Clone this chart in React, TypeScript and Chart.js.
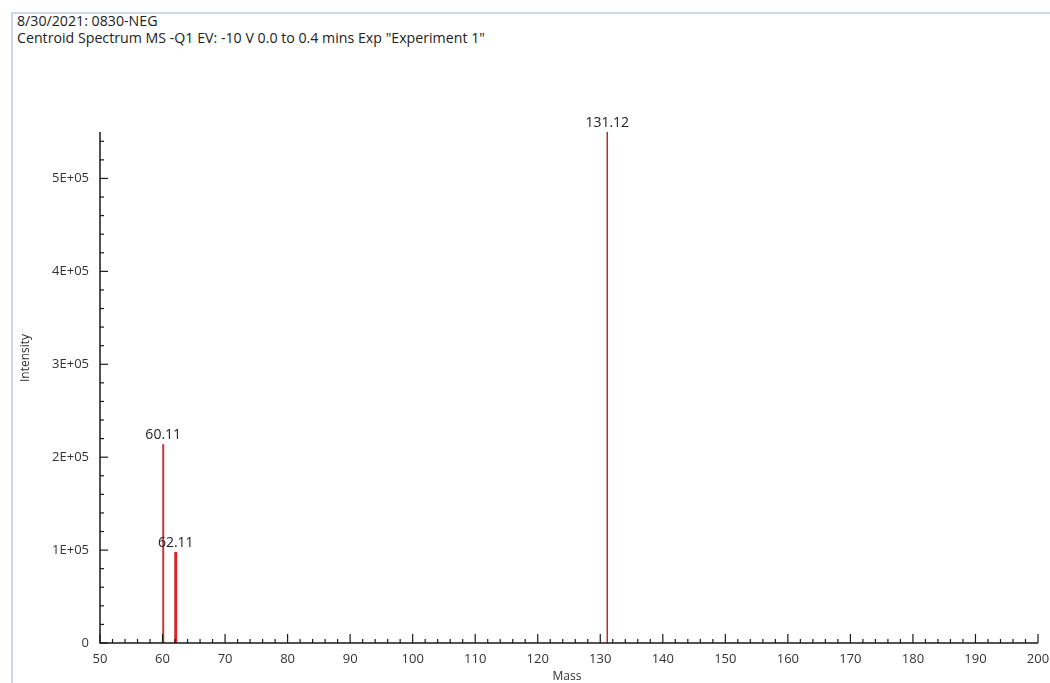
import React, { useEffect, useRef } from "react";
import { Chart, registerables } from "chart.js";

Chart.register(...registerables);

const titleLine1 = "8/30/2021: 0830-NEG";
const titleLine2 = 'Centroid Spectrum MS -Q1 EV: -10 V 0.0 to 0.4 mins Exp "Experiment 1"';
const peakMasses = [60.11, 62.11, 131.12];
const peakIntensities = [214000, 98000, 550000];
const peakLabels = ["60.11", "62.11", "131.12"];
const peakColors = ["#c23a3a", "#d8232a", "#b82e2e"];
const peakWidths = [2, 3, 1.5];
const xTickValues = [50, 60, 70, 80, 90, 100, 110, 120, 130, 140, 150, 160, 170, 180, 190, 200];
const yTickValues = [0, 100000, 200000, 300000, 400000, 500000];
const yTickLabels = ["0", "1E+05", "2E+05", "3E+05", "4E+05", "5E+05"];
const xTitle = "Mass";
const yTitle = "Intensity";

const FONT = "'Open Sans', 'Noto Sans', sans-serif";

const axisPlugin = {
  id: "msAxes",
  afterDraw(chart: any) {
    const ctx = chart.ctx;
    const { left, right, top, bottom } = chart.chartArea;
    const xs = chart.scales.x;
    const ys = chart.scales.y;
    ctx.save();
    ctx.strokeStyle = "#1a1a1a";
    ctx.lineWidth = 1.5;
    ctx.beginPath();
    ctx.moveTo(left, top);
    ctx.lineTo(left, bottom);
    ctx.lineTo(right, bottom);
    ctx.stroke();
    ctx.lineWidth = 1.2;
    for (let v = 50; v <= 200; v += 2) {
      const px = xs.getPixelForValue(v);
      const major = v % 10 === 0;
      ctx.beginPath();
      ctx.moveTo(px, bottom);
      ctx.lineTo(px, bottom - (major ? 9 : 4));
      ctx.stroke();
    }
    for (let v = 0; v <= 550000; v += 20000) {
      const py = ys.getPixelForValue(v);
      const major = v % 100000 === 0;
      ctx.beginPath();
      ctx.moveTo(left, py);
      ctx.lineTo(left + (major ? 8 : 4), py);
      ctx.stroke();
    }
    ctx.fillStyle = "#222";
    ctx.font = `14px ${FONT}`;
    ctx.textAlign = "center";
    ctx.textBaseline = "bottom";
    peakMasses.forEach((m, i) => {
      const px = xs.getPixelForValue(m);
      const py = ys.getPixelForValue(peakIntensities[i]);
      ctx.fillText(peakLabels[i], px, py - 2);
    });
    ctx.font = `12px ${FONT}`;
    ctx.fillStyle = "#333";
    ctx.textBaseline = "middle";
    ctx.fillText(xTitle, (left + right) / 2 - 2, 677);
    ctx.translate(26, 358);
    ctx.rotate(-Math.PI / 2);
    ctx.fillText(yTitle, 0, 0);
    ctx.restore();
  },
};

export default function App() {
  const ref = useRef<HTMLCanvasElement>(null);
  useEffect(() => {
    const datasets = peakMasses.map((m, i) => ({
      label: peakLabels[i],
      data: [
        { x: m, y: 0 },
        { x: m, y: peakIntensities[i] },
      ],
      borderColor: peakColors[i],
      borderWidth: peakWidths[i],
      pointRadius: 0,
      showLine: true,
      fill: false,
    }));
    const chart = new Chart(ref.current as HTMLCanvasElement, {
      type: "scatter",
      data: { datasets },
      plugins: [axisPlugin],
      options: {
        animation: false,
        responsive: false,
        layout: { padding: { left: 0, top: 132, right: 12, bottom: 0 } },
        plugins: { legend: { display: false }, tooltip: { enabled: false } },
        scales: {
          x: {
            type: "linear",
            min: 50,
            max: 200,
            grid: { display: false },
            border: { display: false },
            afterBuildTicks: (s: any) => {
              s.ticks = xTickValues.map((v) => ({ value: v }));
            },
            ticks: {
              autoSkip: false,
              color: "#333",
              font: { family: FONT, size: 13 },
              padding: 0,
              maxRotation: 0,
              callback: (v: any) => String(v),
            },
            afterFit: (s: any) => {
              s.height = 40;
            },
          },
          y: {
            type: "linear",
            min: 0,
            max: 550000,
            grid: { display: false },
            border: { display: false },
            afterBuildTicks: (s: any) => {
              s.ticks = yTickValues.map((v) => ({ value: v }));
            },
            ticks: {
              autoSkip: false,
              color: "#333",
              font: { family: FONT, size: 13 },
              padding: 3,
              callback: (v: any, i: number) => yTickLabels[i] ?? "",
            },
            afterFit: (s: any) => {
              s.width = 100;
            },
          },
        },
      },
    });
    return () => chart.destroy();
  }, []);

  return (
    <div style={{ position: "fixed", left: 0, top: 0, width: 1050, height: 683, background: "#fff", overflow: "hidden" }}>
      <div style={{ position: "absolute", left: 11, top: 12, width: 1040, height: 672, borderTop: "2px solid #cdd7f2", borderLeft: "2px solid #cdd7f2" }} />
      <div style={{ position: "absolute", left: 17, top: 12, fontFamily: FONT, fontSize: 14.2, color: "#222", lineHeight: "17px", whiteSpace: "nowrap" }}>
        <div>{titleLine1}</div>
        <div>{titleLine2}</div>
      </div>
      <canvas ref={ref} width={1050} height={683} style={{ position: "absolute", left: 0, top: 0 }} />
    </div>
  );
}
